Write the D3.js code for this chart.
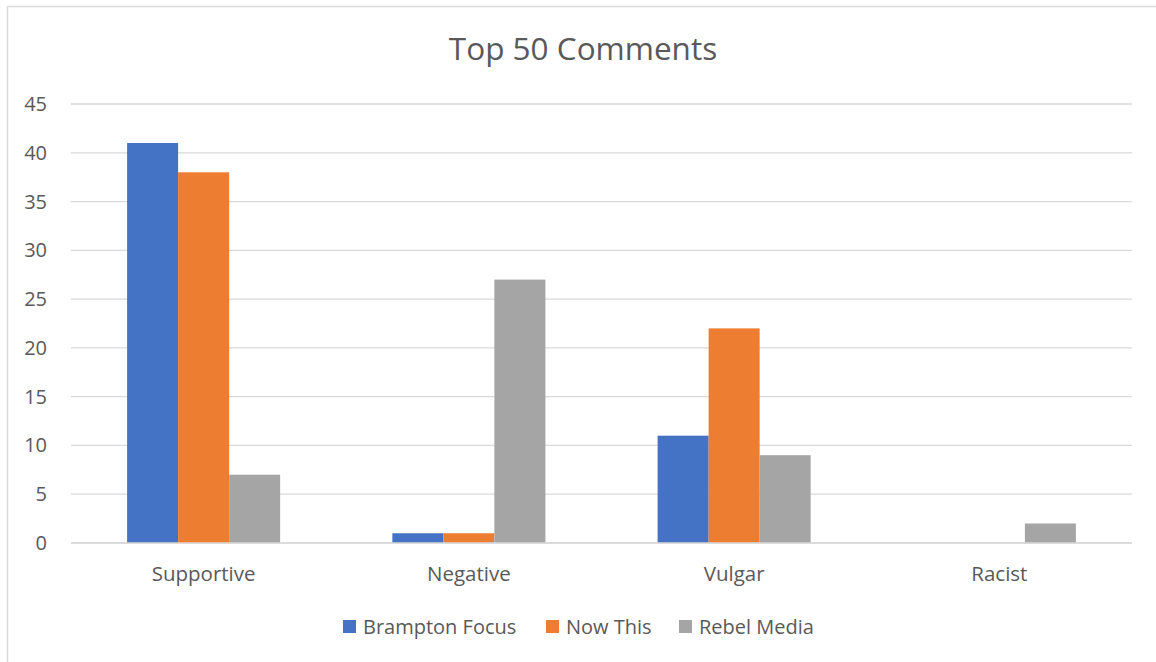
<!DOCTYPE html>
<html>
<head>
<meta charset="utf-8">
<script src="https://cdn.jsdelivr.net/npm/d3@7"></script>
<style>
  body { margin: 0; background: #fff; }
  text { font-family: "Open Sans", "Noto Sans", sans-serif; fill: #595959; }
</style>
</head>
<body>
<svg id="chart" width="1156" height="662"></svg>
<script>
var categories = ["Supportive", "Negative", "Vulgar", "Racist"]
var seriesNames = ["Brampton Focus", "Now This", "Rebel Media"]
var bramptonFocus = [41, 1, 11, 0]
var nowThis = [38, 1, 22, 0]
var rebelMedia = [7, 27, 9, 2]
var yTicks = [0, 5, 10, 15, 20, 25, 30, 35, 40, 45]

var seriesValues = [bramptonFocus, nowThis, rebelMedia]
var colors = ["#4472c4", "#ed7d31", "#a5a5a5"]

var svg = d3.select("#chart")

// chart border
svg.append("rect")
  .attr("x", 7.5).attr("y", 6.5)
  .attr("width", 1160).attr("height", 700)
  .attr("fill", "none")
  .attr("stroke", "#d9d9d9")
  .attr("stroke-width", 1.5)

var plotLeft = 71, plotRight = 1132, plotTop = 104, plotBottom = 543

var x = d3.scaleBand()
  .domain(categories)
  .range([plotLeft, plotRight])

var xSub = d3.scaleBand()
  .domain(seriesNames)
  .range([0, x.bandwidth()])
  .paddingInner(0)
  .paddingOuter(1.1)

var y = d3.scaleLinear()
  .domain([0, 45])
  .range([plotBottom, plotTop])

// gridlines
svg.append("g")
  .selectAll("line")
  .data(yTicks)
  .enter()
  .append("line")
    .attr("x1", plotLeft).attr("x2", plotRight)
    .attr("y1", function(d) { return y(d) })
    .attr("y2", function(d) { return y(d) })
    .attr("stroke", "#d9d9d9")
    .attr("stroke-width", 1.3)

// y labels
svg.append("g")
  .selectAll("text")
  .data(yTicks)
  .enter()
  .append("text")
    .attr("x", 47)
    .attr("y", function(d) { return y(d) })
    .attr("dy", "0.35em")
    .attr("text-anchor", "end")
    .attr("font-size", 20)
    .text(function(d) { return d })

// bars
var rows = []
categories.forEach(function(c, i) {
  seriesNames.forEach(function(s, j) {
    rows.push({cat: c, series: s, value: seriesValues[j][i], k: j})
  })
})

svg.append("g")
  .selectAll("rect")
  .data(rows)
  .enter()
  .append("rect")
    .attr("x", function(d) { return x(d.cat) + xSub(d.series) })
    .attr("y", function(d) { return y(d.value) })
    .attr("width", xSub.bandwidth())
    .attr("height", function(d) { return y(0) - y(d.value) })
    .attr("fill", function(d) { return colors[d.k] })

// baseline on top of bars
svg.append("line")
  .attr("x1", plotLeft).attr("x2", plotRight)
  .attr("y1", y(0)).attr("y2", y(0))
  .attr("stroke", "#d9d9d9")
  .attr("stroke-width", 1.3)

// category labels
svg.append("g")
  .selectAll("text")
  .data(categories)
  .enter()
  .append("text")
    .attr("x", function(d) { return x(d) + x.bandwidth() / 2 })
    .attr("y", 581)
    .attr("text-anchor", "middle")
    .attr("font-size", 20.5)
    .text(function(d) { return d })

// title
svg.append("text")
  .attr("x", 583)
  .attr("y", 60)
  .attr("text-anchor", "middle")
  .attr("font-size", 31.5)
  .text("Top 50 Comments")

// legend
var legendX = [343, 546, 679]
var legend = svg.append("g")
  .selectAll("g")
  .data(seriesNames)
  .enter()
  .append("g")
    .attr("transform", function(d, i) { return "translate(" + legendX[i] + ",620)" })

legend.append("rect")
  .attr("width", 13).attr("height", 13)
  .attr("fill", function(d, i) { return colors[i] })

legend.append("text")
  .attr("x", 20)
  .attr("y", 13.5)
  .attr("font-size", 20)
  .text(function(d) { return d })
</script>
</body>
</html>
